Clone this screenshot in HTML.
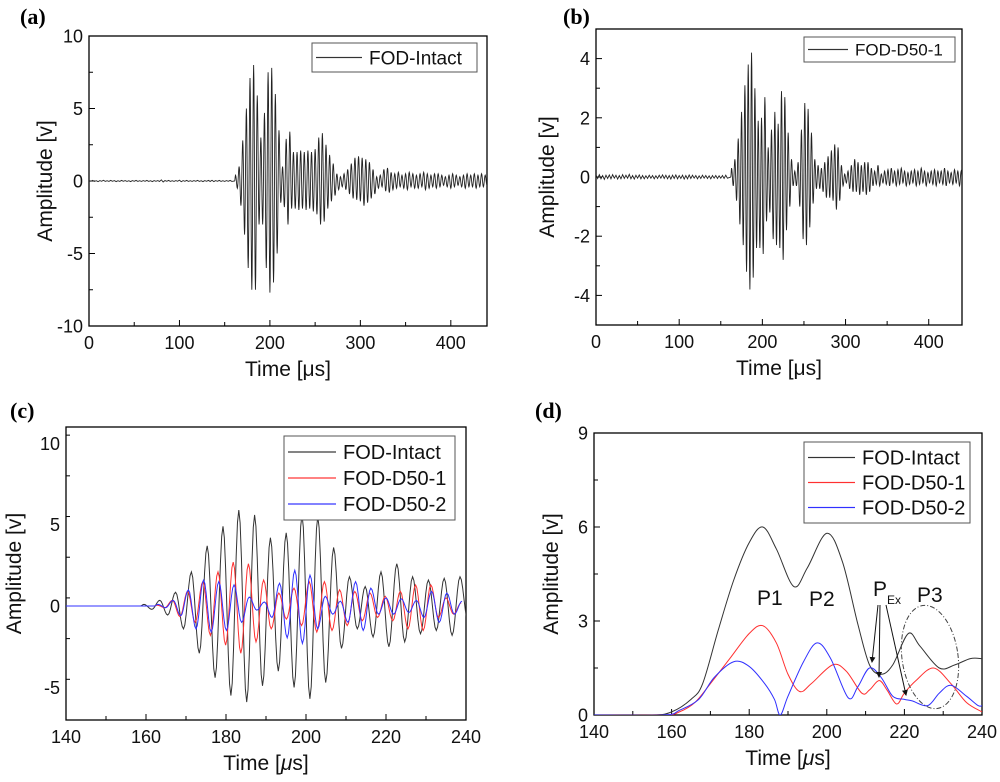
<!DOCTYPE html>
<html><head><meta charset="utf-8">
<style>
html,body{margin:0;padding:0;background:#fff;}
svg{display:block;font-family:"Liberation Sans",sans-serif;}
</style></head>
<body>
<svg id="fig" width="1000" height="782" viewBox="0 0 1000 782" xmlns="http://www.w3.org/2000/svg"></svg>
<script>
// ---------- Panel (a) data: FOD-Intact full signal ----------
const aStart = 162, aPeriod = 4;
const aPeaks = [0.4,1.0,2.8,5.0,7.1,8.0,5.9,3.0,4.7,7.5,7.8,6.0,3.5,1.0,2.9,3.4,2.0,2.0,2.1,2.0,2.1,2.0,2.2,3.0,3.3,2.5,1.8,1.2,0.5,0.3,0.5,0.8,1.2,1.6,1.7,1.6,1.5,1.3,0.8,0.3,0.4,0.8,0.9,0.6,
 0.5,0.6,0.4,0.5,0.6,0.5,0.4,0.5,0.6,0.5,0.4,0.5,0.5,0.4,0.3,0.4,0.5,0.4,0.3,0.4,0.5,0.4,0.5,0.4,0.5,0.4];
const aTroughs = [-0.5,-1.7,-3.7,-6.0,-7.5,-7.5,-3.0,-3.0,-6.0,-7.7,-7.0,-5.0,-1.5,-1.8,-3.0,-1.9,-1.9,-2.0,-1.9,-2.0,-1.9,-2.1,-2.3,-3.0,-2.8,-1.9,-1.4,-1.0,-0.6,-0.4,-0.6,-0.9,-1.2,-1.3,-1.4,-1.7,-1.5,-1.2,-0.9,-0.5,-0.4,-0.7,-0.8,-0.6,
 -0.5,-0.4,-0.5,-0.6,-0.4,-0.5,-0.5,-0.4,-0.6,-0.5,-0.4,-0.5,-0.4,-0.3,-0.4,-0.5,-0.4,-0.3,-0.4,-0.5,-0.4,-0.4,-0.5,-0.4,-0.4,-0.3];
const aNoise = [0.03,-0.02,0.04,-0.03,0.02,-0.04,0.03,-0.02,0.05,-0.03,0.02,-0.03,0.04,-0.02,0.03,-0.04,0.02,-0.03,0.04,-0.02,
 0.03,-0.03,0.02,-0.04,0.03,-0.02,0.04,-0.03,0.02,-0.03,0.03,-0.02,0.04,-0.03,0.02,-0.04,0.03,-0.02,0.03,-0.03,
 0.08,-0.07,0.03,-0.02,0.04,-0.03,0.02,-0.03,0.03,-0.02,0.06,-0.05,0.03,-0.02,0.04,-0.03,0.02,-0.03,0.03,-0.02,
 0.04,-0.03,0.02,-0.04,0.03,-0.02,0.04,-0.03,0.05,-0.04,0.03,-0.02,0.04,-0.03,0.02,-0.03,0.03,-0.02,0.04,-0.03];
// ---------- Panel (b) data: FOD-D50-1 full signal ----------
const bStart = 163, bPeriod = 4;
const bPeaks = [0.3,0.6,1.3,2.2,3.1,3.8,4.2,3.0,1.9,2.0,2.7,1.0,1.6,2.2,1.8,2.9,2.7,1.5,0.6,0.2,0.5,1.6,2.5,2.3,1.5,0.6,0.4,0.3,0.5,0.7,0.9,1.1,1.0,0.4,0.1,0.2,0.4,0.6,0.5,0.4,0.5,0.5,0.3,0.2,0.4,0.1,
 0.2,0.25,0.3,0.2,0.25,0.3,0.2,0.15,0.2,0.25,0.2,0.3,0.2,0.15,0.2,0.25,0.2,0.2,0.3,0.2,0.15,0.25,0.2,0.2];
const bTroughs = [-0.3,-0.8,-1.6,-2.3,-3.2,-3.8,-3.4,-2.4,-2.4,-2.6,-1.5,-1.2,-2.1,-2.3,-2.4,-2.8,-1.8,-1.0,-0.3,-0.3,-1.0,-2.1,-2.3,-1.7,-0.9,-0.4,-0.4,-0.5,-0.7,-0.7,-0.8,-1.1,-0.8,-0.3,-0.2,-0.4,-0.5,-0.5,-0.6,-0.5,-0.6,-0.5,-0.3,-0.25,-0.3,-0.2,
 -0.25,-0.3,-0.2,-0.3,-0.25,-0.2,-0.3,-0.25,-0.2,-0.3,-0.25,-0.2,-0.3,-0.2,-0.25,-0.3,-0.2,-0.25,-0.3,-0.2,-0.25,-0.2,-0.3,-0.25];
const bNoise = [0.07,-0.05,0.08,-0.06,0.05,-0.08,0.06,-0.05,0.07,-0.06,0.08,-0.04,0.06,-0.07,0.05,-0.06,0.08,-0.05,0.06,-0.04,
 0.09,-0.06,0.05,-0.07,0.06,-0.04,0.07,-0.06,0.05,-0.06,0.04,-0.05,0.06,-0.04,0.05,-0.06,0.04,-0.05,0.06,-0.04,
 0.07,-0.05,0.06,-0.06,0.05,-0.07,0.06,-0.05,0.07,-0.06,0.05,-0.05,0.06,-0.07,0.05,-0.06,0.07,-0.05,0.06,-0.04,
 0.05,-0.06,0.04,-0.05,0.06,-0.04,0.05,-0.05,0.04,-0.06,0.05,-0.04,0.05,-0.05,0.04,-0.04,0.05,-0.05,0.06,-0.04];
// ---------- Panel (c) data: zoomed signals ----------
const cIntactStart = 159.5, cIntactPeriod = 3.95;
const cIntactPeaks = [0.1,0.35,0.85,2.1,3.7,4.9,5.9,5.6,4.2,4.5,5.6,5.5,3.6,1.8,1.2,2.1,2.6,1.8,1.6,1.7,1.8];
const cIntactTroughs = [-0.2,-0.55,-1.4,-2.9,-4.4,-5.5,-5.9,-4.9,-4.0,-5.0,-5.7,-4.7,-2.6,-1.4,-1.9,-2.5,-2.2,-1.7,-1.5,-1.8,-0.9];
const cD1Start = 162.8, cD1Period = 3.8;
const cD1Peaks = [0.05,0.35,0.9,1.5,2.1,2.7,2.6,1.6,0.8,1.1,1.5,1.5,1.0,0.9,0.8,0.6,0.9,1.3,1.3,0.5,0.2];
const cD1Troughs = [-0.1,-0.65,-1.0,-1.8,-2.4,-2.9,-2.2,-1.4,-0.8,-1.2,-1.6,-1.5,-1.2,-0.9,-0.7,-0.9,-1.4,-1.5,-0.7,-0.5];
const cD2Start = 163, cD2Period = 3.8;
const cD2Peaks = [0.1,0.35,1.0,1.6,1.5,1.3,0.55,0.25,1.4,2.2,1.9,0.6,0.3,1.5,1.1,0.5,0.45,0.35,0.9,0.8,0.3];
const cD2Troughs = [-0.1,-0.6,-1.4,-1.6,-1.5,-1.0,-0.25,-0.7,-1.95,-2.3,-1.4,-0.5,-1.0,-1.5,-0.5,-0.5,-0.4,-0.7,-1.0,-0.5];
// ---------- Panel (d) data: envelopes ----------
const dIntactT = [140,155,160,165,168,172,176,180,183.5,187,191.5,195,200,204,208,211,214,217,221,224,229,233,237,240];
const dIntactV = [0,0,0.1,0.5,1.0,2.7,4.3,5.5,6.0,5.3,4.1,4.7,5.8,4.9,2.9,1.6,1.3,1.6,2.6,2.2,1.5,1.6,1.8,1.8];
const dD1T = [140,158,162,166,170,175,180,183.5,187,190,193,196,201.5,205,209,211,213.5,215.5,218,220,223,227.5,232,236,240];
const dD1V = [0,0,0.1,0.4,1.0,1.8,2.6,2.85,2.3,1.3,0.75,1.0,1.6,1.4,0.7,0.8,1.1,0.8,0.35,0.7,1.1,1.5,1.0,0.4,0.1];
const dD2T = [140,158,162,167,171,176,180,184,186.5,188,190,194,197.5,201,205.5,208,211,214,217,220,222,226,229,232,236,239,240];
const dD2V = [0,0,0.15,0.5,1.2,1.7,1.55,1.0,0.5,0.0,0.6,1.7,2.3,1.8,0.55,0.9,1.5,1.2,0.6,0.5,0.45,0.3,0.7,0.95,0.6,0.3,0.3];

const NS = "http://www.w3.org/2000/svg";
const fig = document.getElementById('fig');
function mk(tag, attrs, parent){ const e=document.createElementNS(NS,tag); for(const k in attrs) e.setAttribute(k,attrs[k]); (parent||fig).appendChild(e); return e; }
function txt(s, attrs, parent){ const e=mk('text',attrs,parent); e.textContent=s; return e; }

function makeAxes(p){
  const g = mk('g',{});
  
  
  const sx = v => p.x0 + (v - p.xmin)/(p.xmax - p.xmin)*(p.x1 - p.x0);
  const sy = v => p.y1 - (v - p.ymin)/(p.ymax - p.ymin)*(p.y1 - p.y0);
  const tg = mk('g',{stroke:'#000','stroke-width':1},g);
  
  
  for(let v=p.xmin; v<=p.xmax+1e-9; v+=p.xstep/2){
    const major = Math.abs(((v-p.xmin)/p.xstep) - Math.round((v-p.xmin)/p.xstep))<1e-6;
    const L = major?6:4;
    mk('line',{x1:sx(v),x2:sx(v),y1:p.y1,y2:p.y1-L},tg);
  }
  for(let v=p.ymin; v<=p.ymax+1e-9; v+=p.ystep/2){
    const major = Math.abs(((v-p.yfirst)/p.ystep) - Math.round((v-p.yfirst)/p.ystep))<1e-6;
    const L = major?6:4;
    mk('line',{x1:p.x0,x2:p.x0+L,y1:sy(v),y2:sy(v)},tg);
  }
  const xl = mk('g',{'font-size':18,'text-anchor':'middle',fill:'#111'},g);
  
  
  for(let v=p.xmin; v<=p.xmax+1e-9; v+=p.xstep){ txt(String(Math.round(v)),{x:sx(v),y:p.y1+23},xl); }
  const yl = mk('g',{'font-size':18,'text-anchor':'end',fill:'#111'},g);
  
  
  for(let v=p.yfirst; v<=p.ymax+1e-9; v+=p.ystep){ txt(String(Math.round(v*10)/10),{x:p.x0-6,y:sy(v)+6.5},yl); }
  const fr = mk('rect',{x:p.x0,y:p.y0,width:p.x1-p.x0,height:p.y1-p.y0,fill:'none',stroke:'#000','stroke-width':1.3},g);
  
  
  const xt = txt('',{x:(p.x0+p.x1)/2,y:p.y1+50,'font-size':21,'text-anchor':'middle',fill:'#111'},g);
  
  
  xt.textContent = 'Time [';
  const mu = mk('tspan',{'font-style':p.italicMu?'italic':'normal'},xt); mu.textContent='\u03bc';
  const rest = mk('tspan',{},xt); rest.textContent='s]';
  const yc = p.ytitleX, ym=(p.y0+p.y1)/2;
  const yt = txt('Amplitude [v]',{x:yc,y:ym,'font-size':21,'text-anchor':'middle',fill:'#111',transform:`rotate(-90 ${yc} ${ym})`,dy:7},g);
  
  
  const pl = txt(p.label,{x:p.labelX,y:p.labelY,'font-size':22,'font-weight':'bold','font-family':'Liberation Serif, serif',fill:'#000'},g);
  
  
  const clipId = p.name+'-clip';
  const cp = mk('clipPath',{id:clipId},g);
  mk('rect',{x:p.x0,y:p.y0,width:p.x1-p.x0,height:p.y1-p.y0},cp);
  const plot = mk('g',{'clip-path':`url(#${clipId})`},g);
  
  
  return {g, plot, sx, sy};
}

function oscPath(ax, start, period, peaks, troughs, noise, noiseStep, xmin){
  const pts=[];
  if(noise){ for(let i=0;i<noise.length;i++){ const t=xmin+i*noiseStep; if(t<start-period/4) pts.push([t,noise[i]]); } }
  const ext=[[start-period/4,0]];
  const n=Math.max(peaks.length,troughs.length);
  for(let k=0;k<n;k++){
    if(k<peaks.length) ext.push([start+k*period,peaks[k]]);
    if(k<troughs.length) ext.push([start+(k+0.5)*period,troughs[k]]);
  }
  if(!noise) pts.push([xmin,0]);
  pts.push(ext[0]);
  for(let i=1;i<ext.length;i++){
    const [t0,v0]=ext[i-1],[t1,v1]=ext[i];
    const N=6;
    for(let j=1;j<=N;j++){ const f=j/N; const w=(1-Math.cos(Math.PI*f))/2; pts.push([t0+(t1-t0)*f, v0+(v1-v0)*w]); }
  }
  return pts.map((p,i)=>(i?'L':'M')+ax.sx(p[0]).toFixed(2)+','+ax.sy(p[1]).toFixed(2)).join('');
}
function smoothPath(ax, T, V){
  const P=T.map((t,i)=>[ax.sx(t),ax.sy(V[i])]);
  let d='M'+P[0][0].toFixed(2)+','+P[0][1].toFixed(2);
  for(let i=0;i<P.length-1;i++){
    const p0=P[i-1]||P[i], p1=P[i], p2=P[i+1], p3=P[i+2]||P[i+1];
    const c1=[p1[0]+(p2[0]-p0[0])/6, p1[1]+(p2[1]-p0[1])/6];
    const c2=[p2[0]-(p3[0]-p1[0])/6, p2[1]-(p3[1]-p1[1])/6];
    d+=`C${c1[0].toFixed(2)},${c1[1].toFixed(2)} ${c2[0].toFixed(2)},${c2[1].toFixed(2)} ${p2[0].toFixed(2)},${p2[1].toFixed(2)}`;
  }
  return d;
}
function legend(ax, x, y, w, rowH, entries, fs, lineLen, name){
  const lg = mk('g',{},ax.g);
  
  
  mk('rect',{x:x,y:y,width:w,height:rowH*entries.length+6,fill:'#fff',stroke:'#555','stroke-width':1},lg);
  entries.forEach((e,i)=>{
    const ent = mk('g',{},lg);
    
    
    const cy=y+3+rowH*(i+0.5);
    mk('rect',{x:x+4,y:cy-0.6,width:lineLen,height:1.2,fill:e[1]},ent);
    txt(e[0],{x:x+lineLen+11,y:cy+fs*0.36,'font-size':fs,fill:'#111'},ent);
  });
}

// Panel a
const A = makeAxes({name:'panel-a',x0:89,x1:487,y0:36,y1:326,xmin:0,xmax:440,xstep:100,ymin:-10,ymax:10,ystep:5,yfirst:-10,ytitleX:45,label:'(a)',labelX:20,labelY:24});
const pa = mk('path',{d:oscPath(A,aStart,aPeriod,aPeaks,aTroughs,aNoise,2,0),fill:'none',stroke:'#222','stroke-width':0.9},A.plot);


legend(A,312,43,165,23,[['FOD-Intact','#333']],19,46,'legend-a');

// Panel b
const B = makeAxes({name:'panel-b',x0:596,x1:962,y0:29,y1:325,xmin:0,xmax:440,xstep:100,ymin:-5,ymax:5,ystep:2,yfirst:-4,ytitleX:547,label:'(b)',labelX:563,labelY:24});
const pb = mk('path',{d:oscPath(B,bStart,bPeriod,bPeaks,bTroughs,bNoise,2,0),fill:'none',stroke:'#222','stroke-width':0.9},B.plot);


legend(B,804,37,151,19,[['FOD-D50-1','#333']],17,40,'legend-b');

// Panel c
const C = makeAxes({name:'panel-c',x0:66,x1:466,y0:427,y1:720,xmin:140,xmax:240,xstep:20,ymin:-7,ymax:11,ystep:5,yfirst:-5,ytitleX:14,label:'(c)',labelX:10,labelY:418,italicMu:true});
[[cIntactStart,cIntactPeriod,cIntactPeaks,cIntactTroughs,'#333','fod-intact-line'],
 [cD1Start,cD1Period,cD1Peaks,cD1Troughs,'#ff3030','fod-d50-1-line'],
 [cD2Start,cD2Period,cD2Peaks,cD2Troughs,'#3030ff','fod-d50-2-line']].forEach(s=>{
  const p = mk('path',{d:oscPath(C,s[0],s[1],s[2],s[3],null,0,140),fill:'none',stroke:s[4],'stroke-width':1},C.plot);
  
  
});
legend(C,284,436,171,26,[['FOD-Intact','#333'],['FOD-D50-1','#ff3030'],['FOD-D50-2','#3030ff']],20,48,'legend-c');

// Panel d
const D = makeAxes({name:'panel-d',x0:594,x1:982,y0:433,y1:715,xmin:140,xmax:240,xstep:20,ymin:0,ymax:9,ystep:3,yfirst:0,ytitleX:551,label:'(d)',labelX:535,labelY:418,italicMu:true});
[[dIntactT,dIntactV,'#333','fod-intact-envelope'],[dD1T,dD1V,'#ff3030','fod-d50-1-envelope'],[dD2T,dD2V,'#3030ff','fod-d50-2-envelope']].forEach(s=>{
  const p = mk('path',{d:smoothPath(D,s[0],s[1]),fill:'none',stroke:s[2],'stroke-width':1},D.plot);
  
  
});
legend(D,804,442,166,25,[['FOD-Intact','#333'],['FOD-D50-1','#ff3030'],['FOD-D50-2','#3030ff']],20,47,'legend-d');
// annotations
const an = mk('g',{fill:'#111','font-size':21},D.g);


const p1=txt('P1',{x:757,y:605},an);  
const p2=txt('P2',{x:809,y:606},an);  
const pex=txt('P',{x:873,y:596},an);  
const sub=mk('tspan',{'font-size':12,dy:8},pex); sub.textContent='Ex';
const p3=txt('P3',{x:917,y:602},an);  
mk('defs',{},D.g).innerHTML='<marker id="ah" markerWidth="6" markerHeight="6" refX="5" refY="3" orient="auto"><path d="M0,0 L6,3 L0,6 z" fill="#111"/></marker>';
[[878,605,872,662],[880,605,879,677],[886,605,906,695]].forEach((a,i)=>{
  const l=mk('line',{x1:a[0],y1:a[1],x2:a[2],y2:a[3],stroke:'#111','stroke-width':1,'marker-end':'url(#ah)'},an);
  
  
});
const el=mk('ellipse',{cx:930,cy:657,rx:28,ry:52,fill:'none',stroke:'#444','stroke-width':1,'stroke-dasharray':'5,2,1,2',transform:'rotate(-8 930 657)'},an);


</script>
</body></html>
